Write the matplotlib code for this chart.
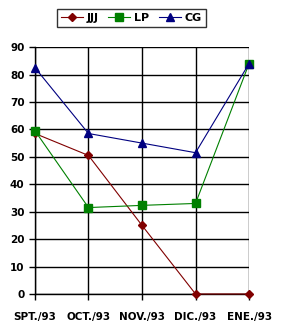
import matplotlib
matplotlib.use("Agg")
from matplotlib import pyplot as plt

months = ["SPT./93", "OCT./93", "NOV./93", "DIC./93", "ENE./93"]
jjj = [58.5, 50.5, 25, 0, 0]
lp = [59.5, 31.5, 32.3, 33, 84]
cg = [82.5, 58.5, 55, 51.5, 84]

fig = plt.figure(figsize=(2.84, 3.27), dpi=100)
ax = fig.add_axes([0.123, 0.101, 0.754, 0.755])

x = range(len(months))
ax.plot(x, jjj, color="#800000", marker="D", markersize=4.5, lw=0.8, label="JJJ", clip_on=False, zorder=3)
ax.plot(x, lp, color="#008000", marker="s", markersize=6, lw=0.8, label="LP", clip_on=False, zorder=3)
ax.plot(x, cg, color="#000080", marker="^", markersize=6, lw=0.8, label="CG", clip_on=False, zorder=4)

ax.set_xlim(0, 4)
ax.set_ylim(0, 90)
ax.set_yticks(range(0, 91, 10))
ax.set_xticks(list(x))
ax.set_xticklabels(months)
ax.grid(True, color="black", lw=1)
for side in ["top", "right"]:
    ax.spines[side].set_visible(False)
ax.spines["left"].set_linewidth(1)
ax.spines["bottom"].set_linewidth(1)
ax.tick_params(axis="both", length=4, width=1, labelsize=7.5, direction="out")
ax.tick_params(axis="x", pad=9)
for lab in ax.get_xticklabels() + ax.get_yticklabels():
    lab.set_fontweight("bold")

leg = fig.legend(loc="upper center", bbox_to_anchor=(0.462, 0.99), ncol=3,
                 prop={"size": 8, "weight": "bold"}, frameon=True, fancybox=False,
                 edgecolor="black", handlelength=2.0, columnspacing=0.9,
                 handletextpad=0.3, borderpad=0.35)
leg.get_frame().set_linewidth(1)

fig.savefig("out.png", dpi=100)
